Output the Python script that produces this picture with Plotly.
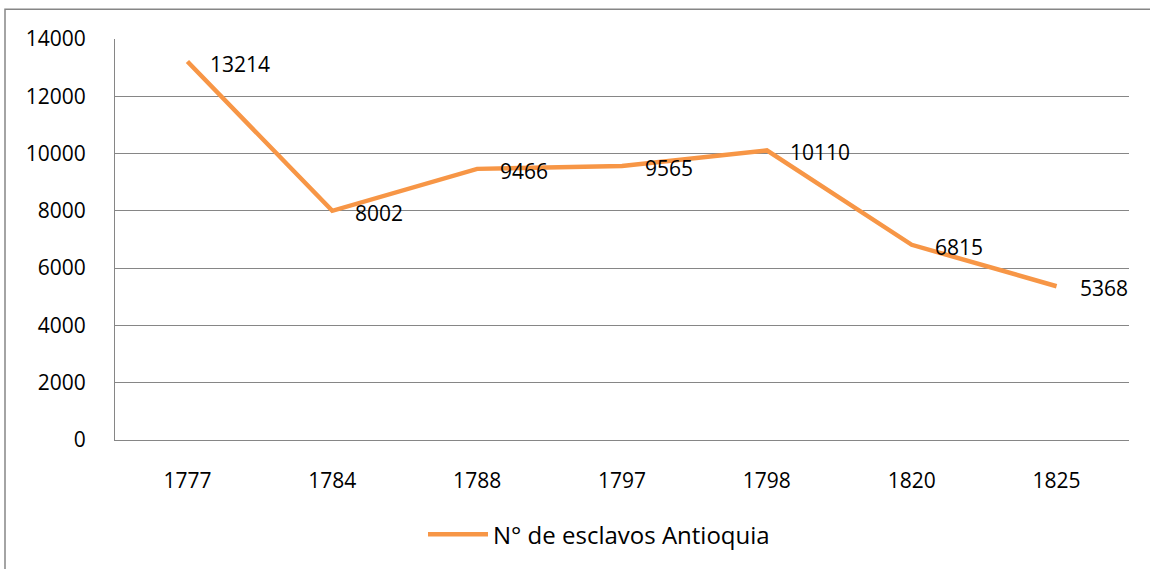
import plotly.graph_objects as go

years = ["1777", "1784", "1788", "1797", "1798", "1820", "1825"]
esclavos = [13214, 8002, 9466, 9565, 10110, 6815, 5368]
series_name = "N° de esclavos Antioquia"

W, H = 1150, 569
L, R, T, B = 115, 21, 39, 127
pw, ph = W - L - R, H - T - B

orange = "#F79646"
grid = "#868686"
font = "Open Sans"
fs = 21

fig = go.Figure()
fig.add_trace(go.Scatter(
    x=years, y=esclavos, mode="lines", name=series_name,
    line=dict(color=orange, width=4.5),
))

for i, v in enumerate(esclavos):
    fig.add_annotation(x=i, y=v, xref="x", yref="y", text=str(v), showarrow=False,
                       xanchor="left", yanchor="middle", xshift=21, yshift=-2,
                       font=dict(family=font, size=fs, color="black"))

# outer chart frame
fig.add_shape(type="rect", xref="paper", yref="paper",
              x0=(5 - L) / pw, x1=(W + 20 - L) / pw,
              y0=-(H + 20 - T - ph) / ph, y1=1 + (T - 9) / ph,
              line=dict(color=grid, width=1.5), fillcolor="rgba(0,0,0,0)", layer="below")

fig.update_layout(
    width=W, height=H,
    margin=dict(l=L, r=R, t=T, b=B),
    paper_bgcolor="white", plot_bgcolor="white",
    font=dict(family=font, size=fs, color="black"),
    showlegend=True,
    legend=dict(orientation="h", x=(599 - L) / pw, xanchor="center",
                y=-(537 - T - ph) / ph, yanchor="middle",
                font=dict(family=font, size=24, color="black"),
                itemwidth=60),
    xaxis=dict(type="category", range=[-0.5, 6.5], showgrid=False,
               showline=True, linecolor=grid, linewidth=1.2,
               ticks="", ticklabelstandoff=22, zeroline=False,
               tickfont=dict(family=font, size=fs, color="black")),
    yaxis=dict(range=[0, 14000], dtick=2000, showgrid=True, gridcolor=grid,
               gridwidth=1.2, showline=True, linecolor=grid, linewidth=1.2,
               ticks="", ticklabelstandoff=24, zeroline=False,
               tickformat="d",
               tickfont=dict(family=font, size=fs, color="black")),
)

fig.write_html("out.html", config={"displayModeBar": False},
               post_script="document.body.style.margin='0';")
